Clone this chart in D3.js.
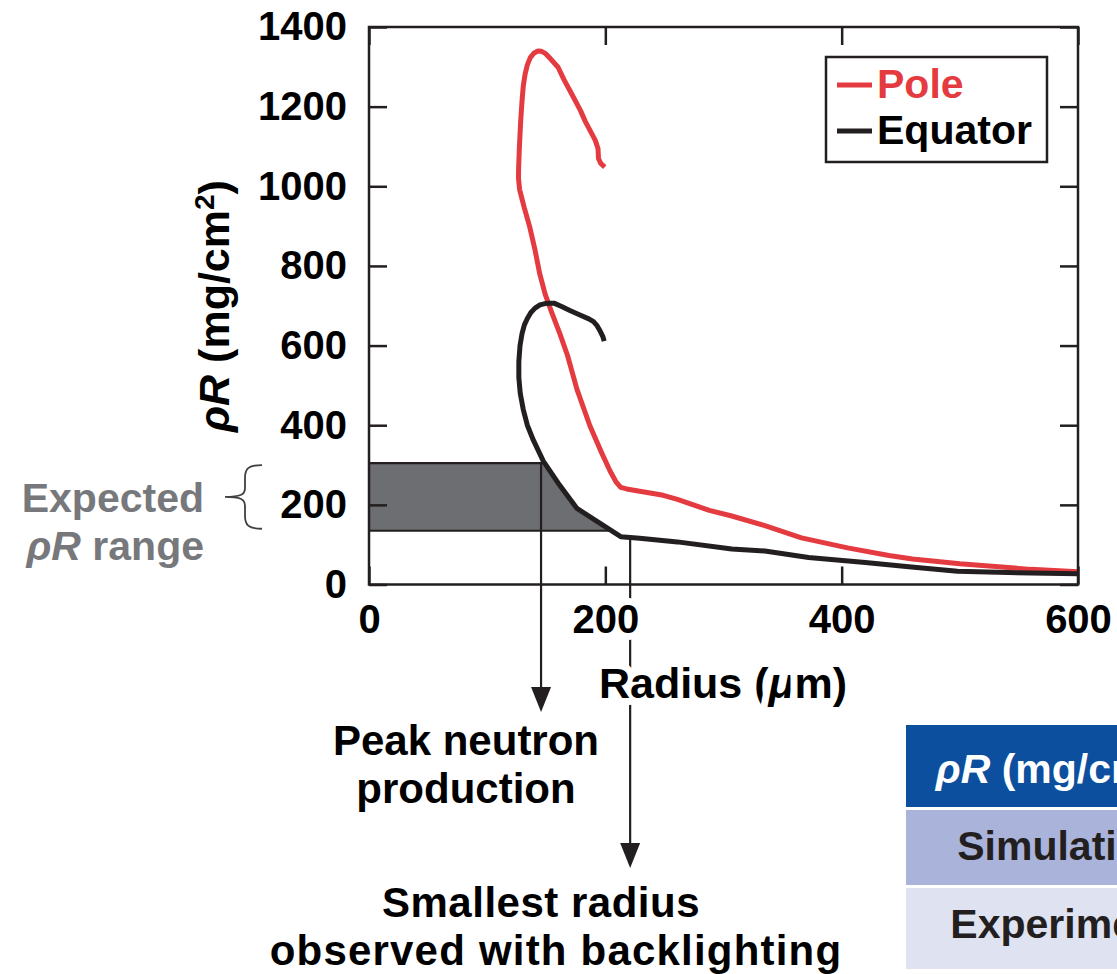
<!DOCTYPE html>
<html>
<head>
<meta charset="utf-8">
<script src="https://cdn.jsdelivr.net/npm/d3@7"></script>
<style>
  html, body { margin: 0; padding: 0; background: #fff; }
  svg { display: block; font-family: "Liberation Sans", Arial, Helvetica, sans-serif; font-weight: bold; }
</style>
</head>
<body>
<svg id="chart" width="1117" height="974"></svg>
<script>
// Axis tick values
const radiusTicks = [0, 200, 400, 600];
const rhoRTicks = [0, 200, 400, 600, 800, 1000, 1200, 1400];

// Areal density vs. shell radius, [radius (µm), ρR (mg/cm²)], in time order
const polePoints = [
  [600, 32], [560, 38], [500, 52], [460, 64], [440, 73], [405, 92], [366, 117],
  [335, 148], [307, 172], [288, 186], [261, 214], [249, 224], [218, 240], [213, 244],
  [209, 258], [204, 285], [197, 330], [187, 398], [176, 490], [168, 575], [161.5, 630],
  [155, 680], [149, 730], [144.5, 780], [140.5, 840], [136, 898], [131.5, 945],
  [127.5, 991], [126.5, 1020], [126.6, 1045], [127.3, 1100], [128.3, 1160],
  [129.4, 1210], [130.5, 1250], [132, 1280], [134, 1305], [136.5, 1323],
  [139.5, 1334], [143, 1340], [146, 1339], [149.5, 1333], [153, 1322], [160, 1299],
  [165, 1268], [171, 1235], [179, 1190], [183, 1163], [191.4, 1116], [193.8, 1095],
  [194.2, 1070], [196, 1058], [199.5, 1048]
];
const equatorPoints = [
  [600, 27], [560, 29], [498, 33], [459, 44], [420, 55], [372, 68], [335, 84],
  [307, 89], [261, 107], [229, 116], [213, 120], [176, 191], [160, 255], [147.5, 310],
  [139, 363], [134, 400], [130.5, 440], [128, 480], [126.8, 520], [126.8, 560],
  [127.8, 600], [129.5, 630], [131.5, 652], [134, 668], [137, 683], [140.5, 694],
  [144.7, 702], [149, 705.5], [153, 706.5], [157, 706], [163, 698], [170, 688],
  [179, 676], [186, 667], [190, 660], [193, 650], [195.5, 637], [198, 622], [199, 611]
];

const seriesNames = ["Pole", "Equator"];
const seriesColors = ["#e43b40", "#231f20"];

// Expected ρR band (mg/cm²) and the two marked radii (µm)
const expectedRange = [135, 305];
const peakNeutronRadius = 145.6;
const smallestObservedRadius = 221;

// Table (first column)
const tableHeader = ["ρR", " (mg/cm", "2", ")"];
const tableRows = ["Simulation", "Experiment"];
const tableRowColors = ["#0c4f9e", "#aab3da", "#dfe2f1"];

const svg = d3.select("#chart");
const ink = "#231f20";

const x = d3.scaleLinear().domain([0, 600]).range([369, 1078]);
const y = d3.scaleLinear().domain([0, 1400]).range([584.5, 27]);

// ---- helpers on a polyline ----
function crossingsAtRhoR(points, level) {
  const out = [];
  for (let i = 0; i < points.length - 1; i++) {
    const [r0, v0] = points[i], [r1, v1] = points[i + 1];
    if ((v0 - level) * (v1 - level) <= 0 && v0 !== v1) {
      const t = (level - v0) / (v1 - v0);
      out.push({ i, r: r0 + t * (r1 - r0) });
    }
  }
  return out;
}
function lowestRhoRAtRadius(points, radius) {
  let best = Infinity;
  for (let i = 0; i < points.length - 1; i++) {
    const [r0, v0] = points[i], [r1, v1] = points[i + 1];
    if ((r0 - radius) * (r1 - radius) <= 0 && r0 !== r1) {
      const t = (radius - r0) / (r1 - r0);
      best = Math.min(best, v0 + t * (v1 - v0));
    }
  }
  return best;
}

// ---- shaded expected-ρR band, bounded on the right by the equator curve ----
const [lo, hi] = expectedRange;
const cLo = crossingsAtRhoR(equatorPoints, lo)[0];
const cHi = crossingsAtRhoR(equatorPoints, hi)[0];
const band = [[0, hi], [cHi.r, hi]];
for (let i = cHi.i; i > cLo.i; i--) {
  const p = equatorPoints[i];
  if (p[1] < hi && p[1] > lo) band.push(p);
}
band.push([cLo.r, lo], [0, lo]);

svg.append("path")
  .attr("d", d3.line().x(d => x(d[0])).y(d => y(d[1]))(band) + "Z")
  .attr("fill", "#6d6e71");
svg.append("line")
  .attr("x1", x(0)).attr("x2", x(cHi.r)).attr("y1", y(hi)).attr("y2", y(hi))
  .attr("stroke", ink).attr("stroke-width", 2.2);
svg.append("line")
  .attr("x1", x(0)).attr("x2", x(cLo.r)).attr("y1", y(lo)).attr("y2", y(lo))
  .attr("stroke", ink).attr("stroke-width", 2.2);

// ---- marker lines with arrowheads ----
function markerArrow(radius, fromRhoR, tipY) {
  const px = x(radius);
  svg.append("line")
    .attr("x1", px).attr("x2", px).attr("y1", y(fromRhoR)).attr("y2", tipY - 10)
    .attr("stroke", ink).attr("stroke-width", 2.2);
  svg.append("path")
    .attr("d", `M${px},${tipY} L${px - 10},${tipY - 25} L${px + 10},${tipY - 25} Z`)
    .attr("fill", ink);
}
markerArrow(peakNeutronRadius, hi, 712);
markerArrow(smallestObservedRadius, lowestRhoRAtRadius(equatorPoints, smallestObservedRadius), 868);

// ---- curves ----
const line = d3.line().x(d => x(d[0])).y(d => y(d[1]));
[polePoints, equatorPoints].forEach((pts, k) => {
  svg.append("path")
    .attr("d", line(pts))
    .attr("fill", "none")
    .attr("stroke", seriesColors[k])
    .attr("stroke-width", 5)
    .attr("stroke-linejoin", "round")
    .attr("stroke-linecap", "butt");
});

// ---- frame and axes ----
svg.append("rect")
  .attr("x", x(0)).attr("y", y(1400))
  .attr("width", x(600) - x(0)).attr("height", y(0) - y(1400))
  .attr("fill", "none").attr("stroke", ink).attr("stroke-width", 2.5);

function styleAxis(g) {
  g.select(".domain").remove();
  g.selectAll(".tick line").attr("stroke", ink).attr("stroke-width", 2.5);
  g.selectAll(".tick text")
    .attr("fill", "#000")
    .style("font-size", "40px")
    .style("font-weight", "bold")
    .style("font-family", "'Liberation Sans', Arial, Helvetica, sans-serif");
}
const plain = d3.format("d");

svg.append("g").attr("transform", `translate(${x(0)},0)`)
  .call(d3.axisLeft(y).tickValues(rhoRTicks).tickFormat(plain)
    .tickSizeInner(-18).tickSizeOuter(0).tickPadding(22))
  .call(styleAxis);
svg.append("g").attr("transform", `translate(${x(600)},0)`)
  .call(d3.axisRight(y).tickValues(rhoRTicks).tickSizeInner(-18).tickSizeOuter(0).tickFormat(""))
  .call(styleAxis);
svg.append("g").attr("transform", `translate(0,${y(1400)})`)
  .call(d3.axisTop(x).tickValues(radiusTicks).tickSizeInner(-18).tickSizeOuter(0).tickFormat(""))
  .call(styleAxis);
const xAxisG = svg.append("g").attr("transform", `translate(0,${y(0)})`)
  .call(d3.axisBottom(x).tickValues(radiusTicks).tickFormat(plain)
    .tickSizeInner(-18).tickSizeOuter(0).tickPadding(20))
  .call(styleAxis);
xAxisG.selectAll(".tick text")
  .attr("stroke", "#fff").attr("stroke-width", 14)
  .attr("stroke-linejoin", "round").attr("paint-order", "stroke");

// ---- axis titles ----
const xTitle = svg.append("text")
  .attr("x", 723).attr("y", 698)
  .attr("text-anchor", "middle")
  .style("font-size", "43px")
  .attr("stroke", "#fff").attr("stroke-width", 14)
  .attr("stroke-linejoin", "round").attr("paint-order", "stroke");
xTitle.append("tspan").text("Radius (");
xTitle.append("tspan").attr("font-style", "italic").text("μ");
xTitle.append("tspan").text("m)");

const yTitle = svg.append("text")
  .attr("transform", "translate(229,306) rotate(-90)")
  .attr("text-anchor", "middle")
  .style("font-size", "43px");
yTitle.append("tspan").attr("font-style", "italic").text("ρR");
yTitle.append("tspan").text(" (mg/cm");
yTitle.append("tspan").attr("dy", -15).style("font-size", "28px").text("2");
yTitle.append("tspan").attr("dy", 15).text(")");

// ---- legend ----
svg.append("rect")
  .attr("x", 826).attr("y", 57).attr("width", 221).attr("height", 105)
  .attr("fill", "#fff").attr("stroke", ink).attr("stroke-width", 2.5);
seriesNames.forEach((name, k) => {
  const ly = 85 + k * 46;
  svg.append("line")
    .attr("x1", 837).attr("x2", 872).attr("y1", ly).attr("y2", ly)
    .attr("stroke", seriesColors[k]).attr("stroke-width", 5);
  svg.append("text")
    .attr("x", 877).attr("y", ly + 13)
    .attr("fill", k === 0 ? seriesColors[k] : "#000")
    .style("font-size", "41px")
    .text(name);
});

// ---- expected range label and brace ----
const gray = "#77787b";
svg.append("text").attr("x", 204).attr("y", 512).attr("text-anchor", "end")
  .attr("fill", gray).style("font-size", "41px").text("Expected");
const rangeLabel = svg.append("text").attr("x", 204).attr("y", 560).attr("text-anchor", "end")
  .attr("fill", gray).style("font-size", "41px");
rangeLabel.append("tspan").attr("font-style", "italic").text("ρR");
rangeLabel.append("tspan").text(" range");

const bTop = y(hi) + 2, bBot = y(lo) - 2, bMid = (bTop + bBot) / 2;
svg.append("path")
  .attr("d", `M262,${bTop} C248,${bTop} 245,${bTop + 4} 245,${bTop + 13} L245,${bMid - 9}
              C245,${bMid - 2} 240,${bMid} 225,${bMid}
              C240,${bMid} 245,${bMid + 2} 245,${bMid + 9} L245,${bBot - 13}
              C245,${bBot - 4} 248,${bBot} 262,${bBot}`)
  .attr("fill", "none").attr("stroke", "#414042").attr("stroke-width", 1.8);

// ---- annotations ----
function label(t, cx, yy, spacing) {
  svg.append("text").attr("x", cx).attr("y", yy)
    .attr("text-anchor", "middle").attr("fill", "#000")
    .style("font-size", "42px").style("letter-spacing", spacing + "px").text(t);
}
label("Peak neutron", 466, 755, 0);
label("production", 466, 803, 0);
label("Smallest radius", 541, 917, 0.5);
label("observed with backlighting", 556, 965, 1.2);

// ---- table ----
const tableX = 906, tableW = 320;
const rowTops = [725, 810, 888], rowHeights = [82, 75, 81];
rowTops.forEach((t, i) => {
  svg.append("rect").attr("x", tableX).attr("y", t)
    .attr("width", tableW).attr("height", rowHeights[i])
    .attr("fill", tableRowColors[i]);
});
const colCenter = 1062;
const head = svg.append("text").attr("x", colCenter - 6).attr("y", 783)
  .attr("text-anchor", "middle").attr("fill", "#fff").style("font-size", "41px");
head.append("tspan").attr("font-style", "italic").text(tableHeader[0]);
head.append("tspan").text(tableHeader[1]);
head.append("tspan").attr("dy", -14).style("font-size", "27px").text(tableHeader[2]);
head.append("tspan").attr("dy", 14).text(tableHeader[3]);
tableRows.forEach((t, i) => {
  svg.append("text").attr("x", colCenter).attr("y", [860, 938][i])
    .attr("text-anchor", "middle").attr("fill", ink)
    .style("font-size", "41px").text(t);
});
</script>
</body>
</html>
